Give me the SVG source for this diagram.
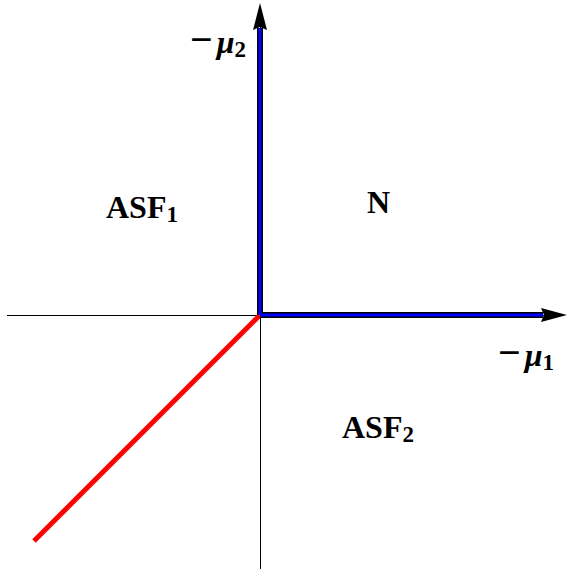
<svg xmlns="http://www.w3.org/2000/svg" width="569" height="569" viewBox="0 0 569 569">
<style>
.lbl{font-family:"Liberation Serif","Times New Roman",serif;font-weight:bold;font-size:32px;fill:#000}
.sub{font-size:23px}
.mu{font-style:italic}
.minus{font-size:40px}
.axis{stroke:#000;stroke-width:1;fill:none}
.blueo{stroke:#000;stroke-width:6;fill:none}
.bluei{stroke:#0000ff;stroke-width:3;fill:none}
</style>
<rect width="569" height="569" fill="#fff"/>
<g id="connectors">
<line class="axis" x1="7" y1="315.5" x2="545" y2="315.5"/>
<line class="axis" x1="260.5" y1="569" x2="260.5" y2="25"/>
<line x1="260" y1="315" x2="34" y2="541" stroke="#ff0000" stroke-width="5"/>
<path class="blueo" d="M260,315 V28 M260,315 H543"/>
<path class="bluei" d="M260,315 V28 M260,315 H543"/>
<polygon points="260,3 267,30 260,27 253,30" fill="#000"/>
<polygon points="567,315 541,308 544,315 541,322" fill="#000"/>
</g>
<g id="label-mu2"><text class="lbl" x="190" y="53"><tspan class="minus">−</tspan><tspan class="mu" dx="4">μ</tspan><tspan class="sub" dy="4">2</tspan></text></g>
<g id="label-mu1"><text class="lbl" x="498" y="366"><tspan class="minus">−</tspan><tspan class="mu" dx="4">μ</tspan><tspan class="sub" dy="4">1</tspan></text></g>
<g id="node-ASF1"><text class="lbl" x="106" y="218">ASF<tspan class="sub" dy="4">1</tspan></text></g>
<g id="node-N"><text class="lbl" x="367" y="213">N</text></g>
<g id="node-ASF2"><text class="lbl" x="342" y="438">ASF<tspan class="sub" dy="4">2</tspan></text></g>
</svg>
